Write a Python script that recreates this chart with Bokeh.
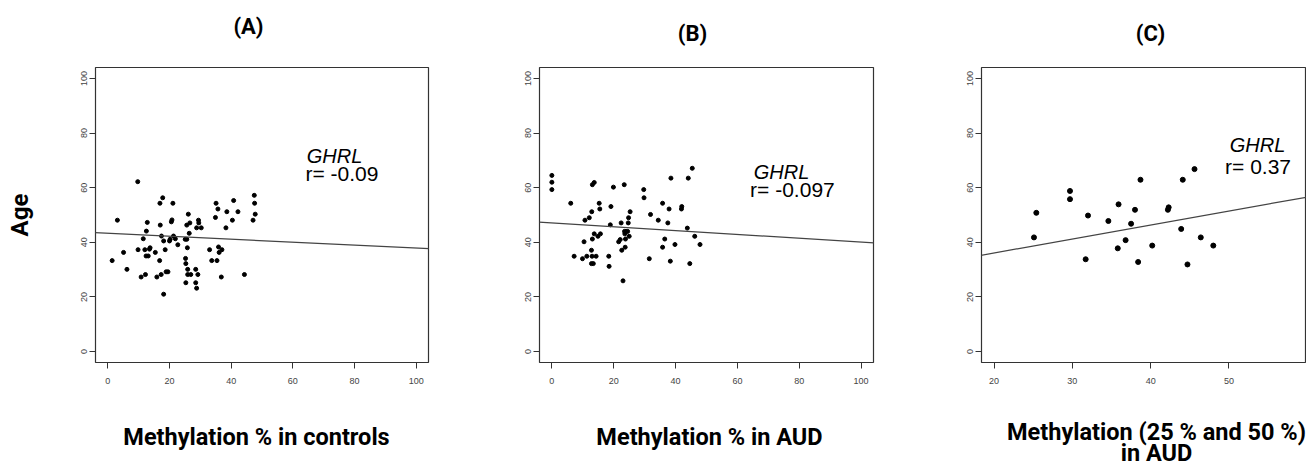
from bokeh.plotting import figure
from bokeh.models import Label, Slope, FixedTicker, Range1d
from bokeh.layouts import row, column
from bokeh.embed import file_html
from bokeh.resources import INLINE

# ---- data ----
# Panel A: controls
a_meth = [1.4, 3.1, 5.1, 6.2, 9.7, 9.8, 10.8, 11.5, 12.0, 12.2, 12.5, 12.8, 12.4, 13.1, 13.5, 13.7,
          15.4, 15.9, 16.8, 17.0, 16.9, 17.3, 17.4, 17.8, 18.1, 18.1, 18.6, 18.9, 19.5, 20.0, 20.2,
          20.6, 20.8, 21.1, 21.3, 21.9, 22.7, 25.1, 25.2, 25.3, 25.3, 25.6, 25.6, 25.8, 25.9, 25.9,
          26.1, 26.4, 26.6, 26.9, 28.5, 28.5, 28.8, 28.8, 29.2, 29.4, 29.5, 30.3, 33.0, 33.7, 34.9,
          35.1, 35.4, 35.7, 35.9, 36.1, 36.8, 37.0, 38.3, 38.6, 40.4, 40.8, 42.2, 44.3, 47.1, 47.5,
          47.6, 47.8]
a_age = [33.3, 48.1, 36.3, 30.1, 62.2, 37.3, 27.3, 41.3, 37.3, 28.2, 44.1, 47.3, 35.0, 35.0, 37.5,
         38.0, 36.3, 27.3, 33.3, 46.3, 54.3, 28.2, 42.3, 56.3, 40.5, 21.0, 37.3, 29.2, 29.2, 40.5,
         41.1, 47.5, 48.2, 54.3, 42.3, 41.3, 39.1, 41.1, 34.1, 32.2, 25.2, 41.1, 46.3, 38.0, 30.1,
         28.2, 50.3, 43.3, 47.1, 28.2, 30.1, 25.2, 45.3, 23.2, 28.2, 48.1, 47.1, 45.3, 37.3, 33.3,
         49.1, 54.3, 33.3, 52.2, 38.3, 36.3, 27.3, 37.3, 45.3, 51.2, 48.1, 55.3, 51.2, 28.2, 48.1,
         57.2, 54.3, 50.3]
a_intercept, a_slope, a_r = 43.3, -0.054, "r= -0.09"

# Panel B: AUD
b_meth = [0.0, 0.0, 0.0, 6.1, 7.2, 9.9, 10.4, 10.7, 11.3, 12.1, 12.8, 12.9, 13.1, 12.8, 13.4, 13.0,
          13.1, 13.7, 13.7, 14.3, 14.9, 15.3, 15.5, 15.7, 18.4, 18.5, 18.9, 19.1, 19.9, 21.6, 22.1,
          22.4, 22.6, 23.0, 23.4, 23.5, 23.6, 23.7, 23.8, 24.0, 24.5, 24.7, 24.8, 25.0, 25.3, 29.7,
          29.8, 31.5, 31.9, 34.4, 35.8, 35.8, 36.5, 37.5, 37.9, 38.3, 38.5, 39.8, 41.9, 42.0, 43.8,
          44.1, 44.6, 45.4, 46.2, 47.9]
b_age = [64.5, 62.0, 59.3, 54.3, 34.9, 34.0, 40.2, 48.1, 34.9, 49.0, 37.1, 51.2, 41.2, 32.2, 32.2,
         34.9, 61.1, 61.9, 43.1, 34.9, 42.2, 54.3, 52.2, 43.1, 34.9, 31.2, 46.4, 53.1, 60.2, 40.2,
         41.0, 47.1, 37.1, 25.9, 61.1, 44.0, 43.1, 38.2, 41.2, 44.0, 44.0, 47.1, 49.0, 42.2, 51.2,
         59.3, 56.3, 34.0, 50.2, 48.1, 54.3, 38.2, 41.2, 47.1, 52.2, 33.1, 63.5, 39.2, 52.2, 53.1,
         45.2, 63.5, 32.2, 67.1, 42.2, 39.2]
b_intercept, b_slope, b_r = 47.1, -0.070, "r= -0.097"

# Panel C: 25 % and 50 % in AUD
c_meth = [25.1, 25.4, 29.7, 29.7, 31.7, 32.0, 34.6, 35.8, 35.9, 36.8, 37.5, 38.0, 38.4, 38.7, 40.2,
          42.2, 42.3, 43.9, 44.1, 44.7, 45.6, 46.4, 48.0]
c_age = [41.8, 50.8, 58.8, 55.8, 33.8, 49.8, 47.8, 37.8, 53.9, 40.8, 46.8, 51.9, 32.8, 62.9, 38.8,
         51.9, 52.8, 44.9, 62.9, 31.9, 66.8, 41.8, 38.8]
c_intercept, c_slope, c_r = 25.85, 0.512, "r= 0.37"

gene = "GHRL"
panel_titles = ["(A)", "(B)", "(C)"]
x_labels = ["Methylation % in controls", "Methylation % in AUD", "Methylation (25 % and 50 %)", "in AUD"]
y_label = "Age"
ab_xticks = [0, 20, 40, 60, 80, 100]
c_xticks = [20, 30, 40, 50, 60]
yticks = [0, 20, 40, 60, 80, 100]

BOLD = "Roboto"
TXT = "Liberation Sans"
W = 1306
HEAD_H, PANEL_H, FOOT_H = 48, 352, 67


def make_panel(xs, ys, xr, yr, width, borders, xticks, intercept, slope, rtext, gene_pos, r_pos, dot):
    left, right, top, bottom = borders
    p = figure(width=width, height=PANEL_H, x_range=Range1d(*xr), y_range=Range1d(*yr),
               output_backend="svg", toolbar_location=None,
               min_border_left=left, min_border_right=right,
               min_border_top=top, min_border_bottom=bottom)
    p.xgrid.visible = False
    p.ygrid.visible = False
    p.outline_line_color = "#333333"
    p.outline_line_width = 1.2
    p.background_fill_color = "white"
    p.border_fill_color = "white"
    for ax, ticks in ((p.xaxis[0], xticks), (p.yaxis[0], yticks)):
        ax.ticker = FixedTicker(ticks=ticks)
        ax.axis_line_color = None
        ax.major_tick_in = 0
        ax.major_tick_out = 6
        ax.major_tick_line_color = "#333333"
        ax.minor_tick_line_color = None
        ax.major_label_text_font = "Liberation Sans"
        ax.major_label_text_font_size = "9px"
        ax.major_label_text_color = "#444444"
    p.xaxis.major_label_standoff = 9
    p.yaxis.major_label_standoff = 2
    p.yaxis.major_label_orientation = "vertical"

    p.add_layout(Slope(gradient=slope, y_intercept=intercept, line_color="#444444", line_width=1.2))
    p.scatter(xs, ys, size=dot, color="black")

    p.add_layout(Label(x=gene_pos[0], y=gene_pos[1], text=gene, text_font=TXT,
                       text_font_style="italic", text_font_size="20px", text_color="black",
                       text_baseline="bottom"))
    p.add_layout(Label(x=r_pos[0], y=r_pos[1], text=rtext, text_font=TXT,
                       text_font_size="21px", text_color="black", text_baseline="bottom"))
    return p


def text_strip(height):
    f = figure(width=W, height=height, x_range=Range1d(0, W), y_range=Range1d(0, height),
               output_backend="svg", toolbar_location=None, min_border=0,
               x_axis_location=None, y_axis_location=None)
    f.grid.visible = False
    f.outline_line_color = None
    f.background_fill_color = "white"
    f.border_fill_color = "white"
    return f


def bold_label(f, x, y, text, size="22px"):
    f.add_layout(Label(x=x, y=y, text=text, text_font=BOLD, text_font_style="bold",
                       text_font_size=size, text_align="center", text_baseline="middle",
                       text_color="black"))


pa = make_panel(a_meth, a_age, (-4, 104), (-4, 104), 470, (95, 42, 19, 37), ab_xticks,
                a_intercept, a_slope, a_r, (64.5, 67.5), (64.1, 61.1), 4)
pb = make_panel(b_meth, b_age, (-4, 104), (-4, 104), 460, (69, 57, 19, 34), ab_xticks,
                b_intercept, b_slope, b_r, (65.3, 61.7), (64.1, 55.0), 4)
pc = make_panel(c_meth, c_age, (18.4, 59.9), (-4, 104), 376, (51, 0, 14, 38), c_xticks,
                c_intercept, c_slope, c_r, (50.1, 71.5), (49.5, 63.7), 5)

pa.yaxis.axis_label = y_label
pa.yaxis.axis_label_text_font = BOLD
pa.yaxis.axis_label_text_font_style = "bold"
pa.yaxis.axis_label_text_font_size = "24px"
pa.yaxis.axis_label_text_color = "black"
pa.yaxis.axis_label_standoff = 45

head = text_strip(HEAD_H)
bold_label(head, 248, HEAD_H - 26, panel_titles[0])
bold_label(head, 692, HEAD_H - 33, panel_titles[1])
bold_label(head, 1150, HEAD_H - 33, panel_titles[2])

foot = text_strip(FOOT_H)
top0 = HEAD_H + PANEL_H
XL = "23.5px"
bold_label(foot, 256, FOOT_H - (436 - top0), x_labels[0], XL)
bold_label(foot, 709, FOOT_H - (436 - top0), x_labels[1], XL)
bold_label(foot, 1156, FOOT_H - (431 - top0), x_labels[2], XL)
bold_label(foot, 1156, FOOT_H - (452.5 - top0), x_labels[3], XL)

layout = column(head, row(pa, pb, pc, spacing=0), foot, spacing=0)
open("out.html", "w").write(file_html(layout, INLINE))
